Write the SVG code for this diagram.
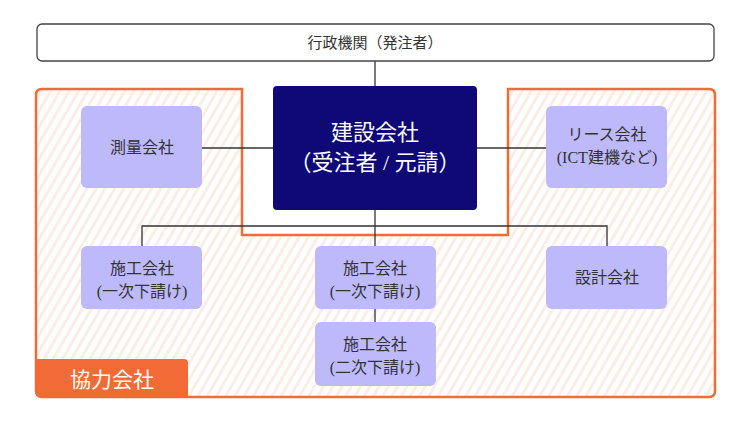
<svg xmlns="http://www.w3.org/2000/svg" width="750" height="422" viewBox="0 0 750 422">
<defs>
<pattern id="hatch" width="8" height="8" patternUnits="userSpaceOnUse" patternTransform="rotate(30)">
<rect width="8" height="8" fill="#fff"/>
<rect width="3" height="8" fill="#fbeee6"/>
</pattern>
</defs>
<style>
text{font-family:"Liberation Serif","Noto Sans CJK JP",serif;text-anchor:middle;fill:#333}
.n{fill:#bdb9fb}
.c{stroke:#333;stroke-width:1.3;fill:none}
</style>
<rect width="750" height="422" fill="#fff"/>
<path d="M42,89 H242 V235 H508 V89 H709 Q715,89 715,95 V391 Q715,397 709,397 H42 Q36,397 36,391 V95 Q36,89 42,89 Z" fill="url(#hatch)" stroke="#f26b36" stroke-width="2.5"/>
<path d="M36,359 H184 Q188,359 188,363 V397 H42 Q36,397 36,391 Z" fill="#f26b36"/>
<text x="112" y="387" font-size="21" style="fill:#fff">協力会社</text>
<g id="connectors" class="c">
<line x1="375" y1="61" x2="375" y2="86"/>
<line x1="202" y1="148" x2="273" y2="148"/>
<line x1="477" y1="148" x2="546" y2="148"/>
<line x1="375" y1="210" x2="375" y2="246"/>
<polyline points="142,246 142,226 607,226 607,246"/>
<line x1="375" y1="309" x2="375" y2="322"/>
</g>
<g id="gyosei"><rect x="37" y="24" width="677" height="37" rx="5" fill="#fff" stroke="#444" stroke-width="1.3"/><text x="375" y="48" font-size="15">行政機関（発注者）</text></g>
<g id="kensetsu"><rect x="273" y="86" width="204" height="124" rx="4" fill="#0f0877"/><text x="375" y="140" font-size="22" style="fill:#fff">建設会社</text><text x="375" y="170" font-size="22" style="fill:#fff">（受注者 / 元請）</text></g>
<g id="sokuryo"><rect class="n" x="81" y="106" width="121" height="82" rx="6"/><text x="142" y="153" font-size="16">測量会社</text></g>
<g id="lease"><rect class="n" x="546" y="106" width="121" height="82" rx="6"/><text x="607" y="140" font-size="16">リース会社</text><text x="607" y="163" font-size="16">(ICT建機など)</text></g>
<g id="seko1a"><rect class="n" x="81" y="246" width="121" height="63" rx="6"/><text x="142" y="274" font-size="16">施工会社</text><text x="142" y="297" font-size="16">(一次下請け)</text></g>
<g id="seko1b"><rect class="n" x="315" y="246" width="121" height="63" rx="6"/><text x="375" y="274" font-size="16">施工会社</text><text x="375" y="297" font-size="16">(一次下請け)</text></g>
<g id="sekkei"><rect class="n" x="546" y="246" width="121" height="63" rx="6"/><text x="607" y="283" font-size="16">設計会社</text></g>
<g id="seko2"><rect class="n" x="315" y="322" width="121" height="64" rx="6"/><text x="375" y="350" font-size="16">施工会社</text><text x="375" y="373" font-size="16">(二次下請け)</text></g>
</svg>
